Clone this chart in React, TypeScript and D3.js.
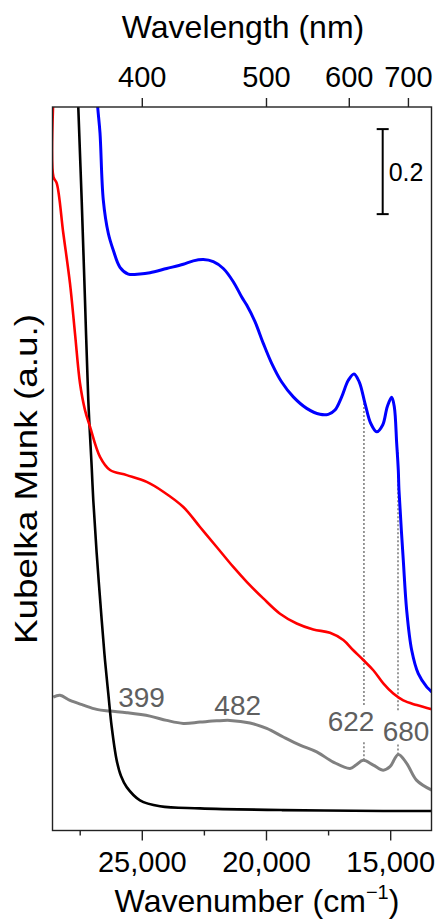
import { useEffect, useRef } from "react";
import * as d3 from "d3";

// [wavenumber (cm-1), Kubelka-Munk]
const blueSeries: [number, number][] = [
  [26864, 1.719], [26796, 1.656], [26703, 1.595], [26570, 1.437], [26369, 1.359],
  [26167, 1.319], [25898, 1.279], [25564, 1.263], [25093, 1.263], [24690, 1.266],
  [24018, 1.276], [23349, 1.286], [22947, 1.294], [22544, 1.297], [22142, 1.292],
  [21739, 1.276], [21337, 1.245], [20998, 1.209], [20797, 1.19], [20463, 1.151],
  [20129, 1.1], [19791, 1.053], [19388, 1.009], [18921, 0.974], [18382, 0.947],
  [17846, 0.933], [17512, 0.933], [17242, 0.943], [16973, 0.974], [16707, 1.013],
  [16477, 1.028], [16264, 1.009], [16035, 0.959], [15805, 0.912], [15564, 0.892],
  [15322, 0.908], [15137, 0.951], [14960, 0.973], [14855, 0.951], [14758, 0.864],
  [14694, 0.802], [14666, 0.755], [14493, 0.59], [14356, 0.472], [14154, 0.378],
  [13889, 0.323], [13551, 0.292], [13349, 0.28],
];

const redSeries: [number, number][] = [
  [28583, 1.672], [28575, 1.491], [28446, 1.477], [28180, 1.359], [27911, 1.241],
  [27709, 1.123], [27508, 1.006], [27307, 0.943], [27105, 0.904], [26703, 0.833],
  [26300, 0.802], [25628, 0.79], [24823, 0.774], [24155, 0.751], [23349, 0.715],
  [22677, 0.668], [22005, 0.621], [21337, 0.574], [20797, 0.539], [20129, 0.5],
  [19456, 0.464], [18784, 0.441], [18116, 0.427], [17444, 0.419], [16908, 0.402],
  [16506, 0.378], [16103, 0.355], [15700, 0.331], [15298, 0.3], [14895, 0.276],
  [14493, 0.26], [13953, 0.249], [13349, 0.239],
];

const blackSeries: [number, number][] = [
  [27589, 1.684], [27577, 1.656], [27440, 1.437], [27307, 1.202], [27174, 0.966],
  [27037, 0.809], [26973, 0.731], [26836, 0.606], [26634, 0.449], [26502, 0.355],
  [26369, 0.276], [26232, 0.198], [26031, 0.119], [25857, 0.082], [25628, 0.056],
  [25093, 0.025], [24287, 0.011], [22677, 0.006], [19324, 0.002], [15298, 0.0],
  [13349, 0.0],
];

const graySeries: [number, number][] = [
  [28583, 0.268], [28313, 0.272], [27911, 0.26], [27375, 0.249], [26836, 0.239],
  [26300, 0.235], [25628, 0.231], [24690, 0.223], [24018, 0.213], [23349, 0.206],
  [22677, 0.209], [22005, 0.212], [21469, 0.213], [20664, 0.207], [19992, 0.194],
  [19324, 0.174], [18651, 0.155], [17979, 0.139], [17311, 0.115], [16638, 0.1],
  [16397, 0.108], [16103, 0.119], [15700, 0.108], [15298, 0.096], [15028, 0.104],
  [14694, 0.133], [14356, 0.112], [13953, 0.072], [13349, 0.049],
];

const bottomMajor = [25000, 20000, 15000];
const bottomMinor = [27500, 22500, 17500];
const topWavelengths = [400, 500, 600, 700];

// peak labels: text, x position (cm-1), baseline (K-M)
const peakLabels: [string, number, number][] = [
  ["399", 25032, 0.245],
  ["482", 21159, 0.225],
  ["622", 16598, 0.188],
  ["680", 14384, 0.164],
];

// dotted markers: wavelength (nm), from, gap start, gap end, to (K-M)
const markers: [number, number, number, number, number][] = [
  [622, 0.119, 0.166, 0.249, 0.959],
  [680, 0.133, 0.159, 0.237, 0.849],
];

const font = "'Liberation Sans', Arial, sans-serif";

export default function App() {
  const svgRef = useRef<SVGSVGElement>(null);
  const width = 438;
  const height = 920;

  useEffect(() => {
    const svg = d3.select(svgRef.current);
    svg.selectAll("*").remove();

    const left = 52.5, right = 431.5, top = 107, bottom = 830.5;

    const x = d3.scaleLinear().domain([28615, 13357]).range([left, right]);
    const y = d3.scaleLinear().domain([-0.046, 1.656]).range([bottom, top]);

    svg.append("defs").append("clipPath").attr("id", "plot")
      .append("rect").attr("x", left).attr("y", top)
      .attr("width", right - left).attr("height", bottom - top);

    const line = d3.line<[number, number]>()
      .x((d) => x(d[0]))
      .y((d) => y(d[1]))
      .curve(d3.curveCatmullRom.alpha(0.5));

    const plot = svg.append("g").attr("clip-path", "url(#plot)");

    // dotted markers
    markers.forEach(([nm, a, g1, g2, b]) => {
      const wn = 1e7 / nm;
      [[a, g1], [g2, b]].forEach(([v0, v1]) => {
        plot.append("line")
          .attr("x1", x(wn)).attr("x2", x(wn))
          .attr("y1", y(v0)).attr("y2", y(v1))
          .attr("stroke", "#808080").attr("stroke-width", 1.6)
          .attr("stroke-dasharray", "2,2");
      });
    });

    const series: [[number, number][], string, number][] = [
      [graySeries, "#808080", 3],
      [blackSeries, "#000000", 2.6],
      [redSeries, "#ff0000", 2.6],
      [blueSeries, "#0000ff", 3],
    ];
    series.forEach(([data, color, w]) => {
      plot.append("path")
        .datum(data)
        .attr("d", line)
        .attr("fill", "none")
        .attr("stroke", color)
        .attr("stroke-width", w)
        .attr("stroke-linejoin", "round");
    });

    // peak labels
    peakLabels.forEach(([t, wn, v]) => {
      svg.append("text")
        .attr("x", x(wn)).attr("y", y(v))
        .attr("text-anchor", "middle")
        .attr("font-family", font).attr("font-size", 28)
        .attr("fill", "#5f5f5f")
        .text(t);
    });

    // frame
    svg.append("rect")
      .attr("x", left).attr("y", top)
      .attr("width", right - left).attr("height", bottom - top)
      .attr("fill", "none").attr("stroke", "#222").attr("stroke-width", 1.4);

    // bottom axis
    const fmt = d3.format(",");
    bottomMajor.forEach((v) => {
      svg.append("line")
        .attr("x1", x(v)).attr("x2", x(v))
        .attr("y1", bottom).attr("y2", bottom + 10)
        .attr("stroke", "#222").attr("stroke-width", 1.4);
      svg.append("text")
        .attr("x", x(v)).attr("y", 872)
        .attr("text-anchor", "middle")
        .attr("font-family", font).attr("font-size", 29)
        .text(fmt(v));
    });
    bottomMinor.forEach((v) => {
      svg.append("line")
        .attr("x1", x(v)).attr("x2", x(v))
        .attr("y1", bottom).attr("y2", bottom + 5)
        .attr("stroke", "#222").attr("stroke-width", 1.4);
    });

    const xt = svg.append("text")
      .attr("x", 257).attr("y", 912)
      .attr("text-anchor", "middle")
      .attr("font-family", font).attr("font-size", 32);
    xt.append("tspan").text("Wavenumber (cm");
    xt.append("tspan").attr("font-size", 20).attr("dy", -13).text("\u22121");
    xt.append("tspan").attr("dy", 13).text(")");

    // top axis (wavelength)
    topWavelengths.forEach((nm) => {
      const px = x(1e7 / nm);
      svg.append("line")
        .attr("x1", px).attr("x2", px)
        .attr("y1", top).attr("y2", top - 9)
        .attr("stroke", "#222").attr("stroke-width", 1.4);
      svg.append("text")
        .attr("x", px).attr("y", 87)
        .attr("text-anchor", "middle")
        .attr("font-family", font).attr("font-size", 29)
        .text(nm);
    });
    svg.append("text")
      .attr("x", 243).attr("y", 38)
      .attr("text-anchor", "middle")
      .attr("font-family", font).attr("font-size", 32)
      .text("Wavelength (nm)");

    // y label
    svg.append("text")
      .attr("transform", "translate(37,479) rotate(-90)")
      .attr("text-anchor", "middle")
      .attr("font-family", font).attr("font-size", 32)
      .attr("textLength", 330)
      .attr("lengthAdjust", "spacingAndGlyphs")
      .text("Kubelka Munk (a.u.)");

    // scale bar 0.2
    const sbX = x(15322);
    const sbTop = y(1.604), sbBot = y(1.404);
    svg.append("line").attr("x1", sbX).attr("x2", sbX).attr("y1", sbTop).attr("y2", sbBot)
      .attr("stroke", "#000").attr("stroke-width", 2);
    [sbTop, sbBot].forEach((yy) => {
      svg.append("line").attr("x1", sbX - 6).attr("x2", sbX + 6).attr("y1", yy).attr("y2", yy)
        .attr("stroke", "#000").attr("stroke-width", 2);
    });
    svg.append("text")
      .attr("x", sbX + 6).attr("y", (sbTop + sbBot) / 2 + 9)
      .attr("font-family", font).attr("font-size", 25)
      .text("0.2");
  }, []);

  return (
    <svg
      ref={svgRef}
      width={width}
      height={height}
      style={{ position: "absolute", left: 0, top: 0, background: "#fff" }}
    />
  );
}
